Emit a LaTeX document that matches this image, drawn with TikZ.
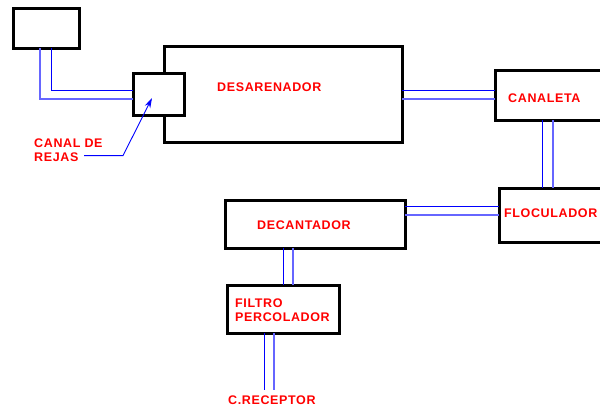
\documentclass[tikz,border=0pt]{standalone}
\usepackage{fontspec}
\setmainfont{Liberation Sans}
\newfontfamily\lblfont[LetterSpace=5]{Liberation Sans}
\usetikzlibrary{calc,arrows.meta}
\begin{document}
\begin{tikzpicture}[x=1pt,y=-1pt,
  box/.style={draw, line width=3pt, fill=white, inner sep=0pt, outer sep=0pt, anchor=north west},
  lbl/.style={text=red, font=\lblfont\bfseries\fontsize{12.5}{14}\selectfont, inner sep=0pt, anchor=west, align=left},
  dk/.style={draw=blue, line width=1pt},
  lt/.style={draw=blue!60, line width=1.1pt}]
\clip (0,0) rectangle (600,407);
\fill[white] (0,0) rectangle (600,407);
% boxes
\node[box, minimum width=66pt, minimum height=40pt] (top) at (13,8) {};
\node[box, minimum width=238pt, minimum height=96pt] (des) at (164,46) {};
\node[box, minimum width=51pt, minimum height=42pt] (rejas) at (133,73) {};
\node[box, minimum width=110pt, minimum height=50pt] (can) at (495,70) {};
\node[box, minimum width=106pt, minimum height=54pt] (floc) at (499,188) {};
\node[box, minimum width=180pt, minimum height=48pt] (dec) at (225,200) {};
\node[box, minimum width=112pt, minimum height=48pt] (fil) at (227,285) {};
% labels
\node[lbl] (tdes) at (217,87) {DESARENADOR};
\node[lbl] (tcan) at (508,98) {CANALETA};
\node[lbl] (tfloc) at (504,213) {FLOCULADOR};
\node[lbl] (tdec) at (257,225) {DECANTADOR};
\node[lbl] (tfil) at (235,310) {FILTRO\\PERCOLADOR};
\node[lbl] (trej) at (34,150) {CANAL DE\\REJAS};
\node[lbl] (rec) at (228,400) {C.RECEPTOR};
% connectors
\draw[lt] ($(top.south west)+(27,0)$) |- ($(rejas.north west)+(0,26)$);
\draw[dk] ($(top.south west)+(38,0)$) |- ($(rejas.north west)+(0,17)$);
\draw[dk] ($(des.north east)+(0,44)$) -- ($(can.north west)+(0,20)$);
\draw[lt] ($(des.north east)+(0,53)$) -- ($(can.north west)+(0,29)$);
\draw[dk] ($(can.south west)+(47,0)$) -- ($(floc.north west)+(43,0)$);
\draw[lt] ($(can.south west)+(58,0)$) -- ($(floc.north west)+(54,0)$);
\draw[dk] ($(floc.north west)+(0,18)$) -- ($(dec.north east)+(0,6)$);
\draw[lt] ($(floc.north west)+(0,27)$) -- ($(dec.north east)+(0,15)$);
\draw[dk] ($(dec.south west)+(58,0)$) -- ($(fil.north west)+(56,0)$);
\draw[lt] ($(dec.south west)+(68,0)$) -- ($(fil.north west)+(66,0)$);
\coordinate (r1) at ($(rec.north west)+(36,-5)$);
\coordinate (r2) at ($(rec.north west)+(46,-5)$);
\draw[dk] ($(fil.south west)+(37,0)$) -- (r1);
\draw[lt] ($(fil.south west)+(47,0)$) -- (r2);
% pointer arrow
\coordinate (a0) at ($(trej.south west)+(50,-6)$);
\coordinate (a1) at ($(a0)+(39,0)$);
\coordinate (a2) at ($(rejas.north west)+(19,25)$);
\draw[blue, line width=0.9pt, -{Stealth[length=10pt,width=6pt]}] (a0) -- (a1) -- (a2);
\end{tikzpicture}
\end{document}
